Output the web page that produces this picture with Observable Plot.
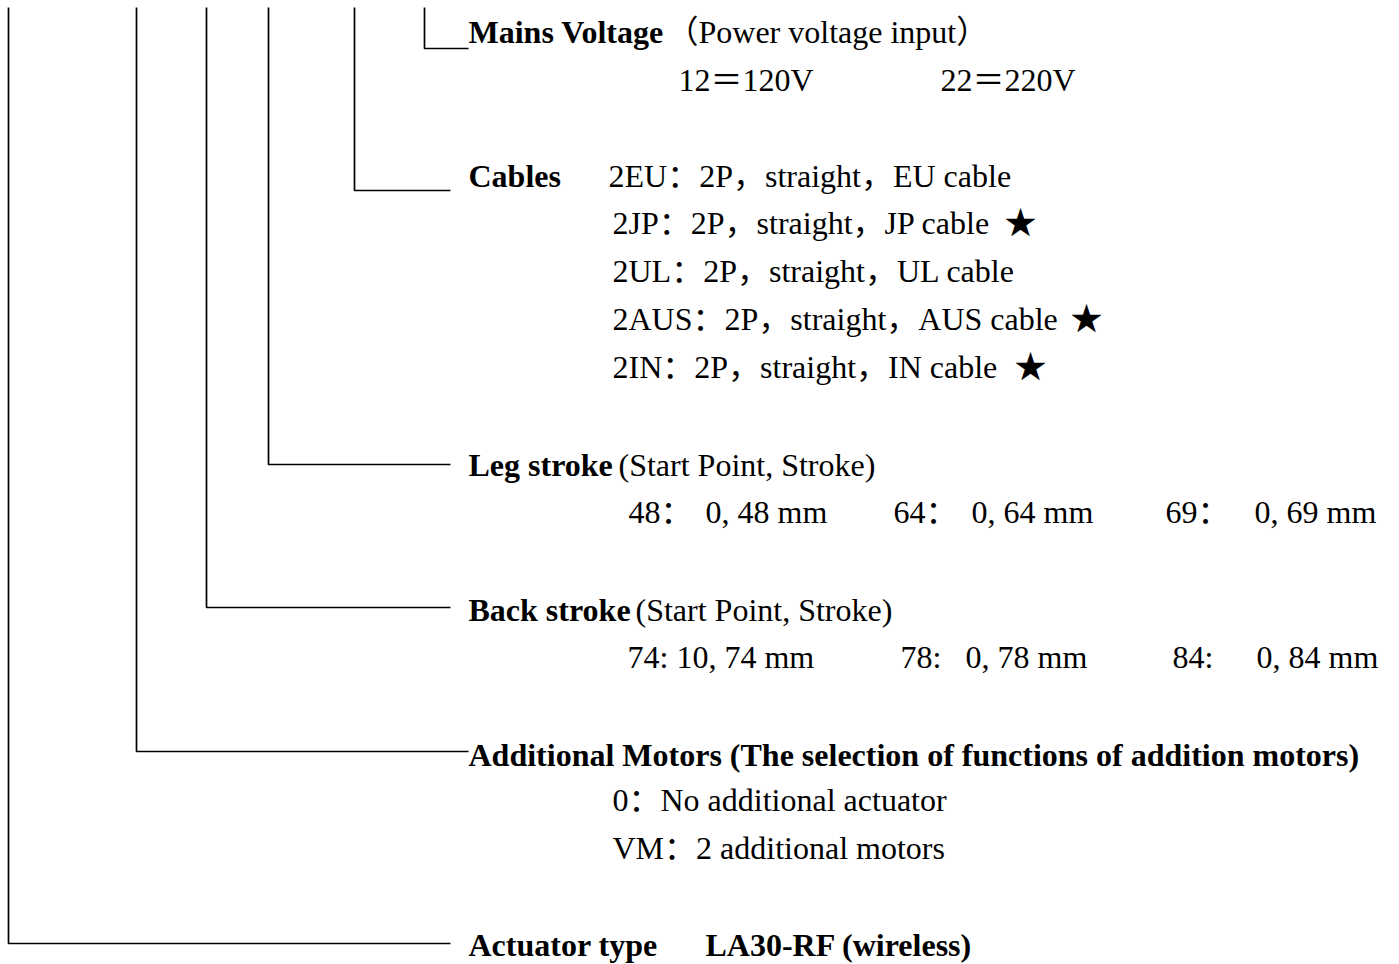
<!DOCTYPE html>
<html>
<head>
<meta charset="utf-8">
<script src="https://cdn.jsdelivr.net/npm/d3@7"></script>
<script src="https://cdn.jsdelivr.net/npm/@observablehq/plot@0.6"></script>
<style>
  html, body { margin: 0; padding: 0; background: #fff; }
  #chart svg { display: block; }
</style>
</head>
<body>
<div id="chart"></div>
<script>
// ---- Content ----
const titles = [
  "Mains Voltage",
  "Cables",
  "Leg stroke",
  "Back stroke",
  "Additional Motors (The selection of functions of addition motors)",
  "Actuator type",
  "LA30-RF (wireless)"
];
const notes = [
  "（Power voltage input）",
  "12＝120V", "22＝220V",
  "2EU：2P，straight，EU cable",
  "2JP：2P，straight，JP cable",
  "2UL：2P，straight，UL cable",
  "2AUS：2P，straight，AUS cable",
  "2IN：2P，straight，IN cable",
  "(Start Point, Stroke)",
  "48：", "0, 48 mm", "64：", "0, 64 mm", "69：", "0, 69 mm",
  "(Start Point, Stroke)",
  "74: 10, 74 mm", "78:", "0, 78 mm", "84:", "0, 84 mm",
  "0：No additional actuator",
  "VM：2 additional motors"
];
const stars = ["★", "★", "★"];

// ---- Layout ----
const branchX = [8, 136, 206, 268, 354, 424];
const branchY = [943, 751, 607, 464, 190, 48];
const branchEnd = [450, 468, 450, 450, 450, 468];
const branchTop = 7;

const titleX = [468, 468, 468, 468, 468, 468, 705];
const titleY = [42, 186, 475, 620, 765, 955, 955];

const noteX = [666, 678, 940, 608, 612, 612, 612, 612, 618, 628, 705, 893, 971, 1165, 1254, 635, 627, 900, 965, 1172, 1256, 612, 612];
const noteY = [42, 90, 90, 186, 233, 281, 329, 377, 475, 522, 522, 522, 522, 522, 522, 620, 667, 667, 667, 667, 667, 810, 858];

const starX = [1004, 1070, 1014];
const starY = [233, 329, 377];

// Build tables
const paths = branchX.flatMap((x, i) => [
  {b: i, x, y: branchTop},
  {b: i, x, y: branchY[i]},
  {b: i, x: branchEnd[i], y: branchY[i]}
]);
const titleData = titles.map((t, i) => ({t, x: titleX[i], y: titleY[i]}));
const noteData = notes.map((t, i) => ({t, x: noteX[i], y: noteY[i]}));
const starData = stars.map((t, i) => ({t, x: starX[i], y: starY[i]}));

const font = "'Liberation Serif', 'Times New Roman', 'Noto Sans CJK SC', serif";

const chart = Plot.plot({
  width: 1399,
  height: 964,
  margin: 0,
  x: {domain: [0, 1399], range: [0, 1399], axis: null},
  y: {domain: [0, 964], range: [0, 964], axis: null},
  style: {background: "#fff", color: "#000", fontFamily: font},
  marks: [
    Plot.line(paths, {x: "x", y: "y", z: "b", stroke: "#000", strokeWidth: 1.7, strokeLinejoin: "miter", strokeLinecap: "butt", curve: "linear"}),
    Plot.text(titleData, {x: "x", y: "y", text: "t", textAnchor: "start", lineAnchor: "bottom", fontSize: 32, fontWeight: "bold", fill: "#000", fontFamily: font}),
    Plot.text(noteData, {x: "x", y: "y", text: "t", textAnchor: "start", lineAnchor: "bottom", fontSize: 32, fill: "#000", fontFamily: font}),
    Plot.text(starData, {x: "x", y: "y", text: "t", textAnchor: "start", lineAnchor: "bottom", fontSize: 32, fill: "#000", fontFamily: "'Noto Sans CJK SC', 'DejaVu Sans', sans-serif"})
  ]
});
document.getElementById("chart").appendChild(chart);
</script>
</body>
</html>
